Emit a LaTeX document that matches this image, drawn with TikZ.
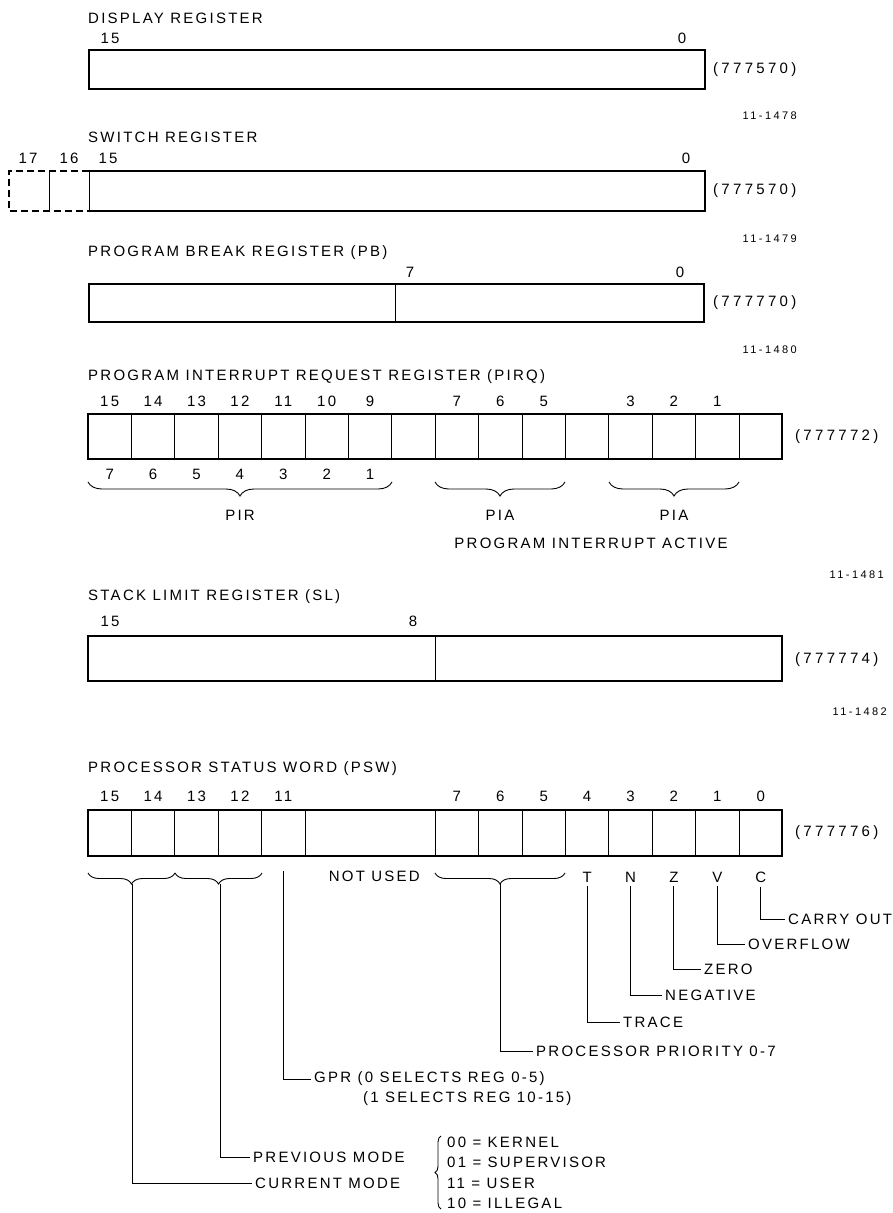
\documentclass[tikz,border=0pt]{standalone}
\usepackage{fontspec}
\setmainfont[LetterSpace=15]{Liberation Sans}
\newfontfamily\fignofont[LetterSpace=22]{Liberation Sans}
\newfontfamily\addrfont[LetterSpace=22]{Liberation Sans}
\usetikzlibrary{decorations.pathreplacing}

\tikzset{
  regbox/.style={line width=1.5pt},
  bitdiv/.style={line width=0.8pt},
  txt/.style={font=\fontsize{15}{18}\selectfont, inner sep=0pt},
  title/.style={txt, anchor=west},
  addr/.style={font=\addrfont\fontsize{15}{18}\selectfont, inner sep=0pt, anchor=west},
  figno/.style={font=\fignofont\fontsize{11}{13}\selectfont, inner sep=0pt, anchor=east},
  flag/.style={txt, inner sep=4pt},
  note/.style={txt, anchor=west, inner sep=3pt},
  lead/.style={line width=1pt},
  ubrace/.style={decorate, decoration={brace, mirror, amplitude=#1}, line width=0.9pt},
  ubrace/.default=12pt,
}

\begin{document}
\begin{tikzpicture}[x=1pt, y=-1pt]
    \useasboundingbox (0,0) rectangle (892,1213);

    % Display register
    \node[title] (dsptitle) at (88,18) {DISPLAY REGISTER};
    \node[txt] (dsp15) at (110,38) {15};
    \node[txt] (dsp0) at (682,38) {0};
    \draw[regbox] (89,50) rectangle (705,89);
    \node[addr] (dspaddr) at (713,70) {(777570)};
    \node[figno] (dspfig) at (797,116) {11-1478};

    % Switch register, bits 17 and 16 dashed
    \node[title] (swtitle) at (88,137) {SWITCH REGISTER};
    \node[txt] (sw17) at (28,158) {17};
    \node[txt] (sw16) at (69,158) {16};
    \node[txt] (sw15) at (108,158) {15};
    \node[txt] (sw0) at (686,158) {0};
    \draw[regbox, dash pattern=on 7pt off 4pt] (89,171) -- (9,171) -- (9,211) -- (89,211);
    \draw[bitdiv] (49,171) -- (49,211);
    \draw[bitdiv] (89,171) -- (89,211);
    \draw[regbox] (89,171) -- (705,171) -- (705,211) -- (89,211);
    \node[addr] (swaddr) at (713,191) {(777570)};
    \node[figno] (swfig) at (797,239) {11-1479};

    % Program break register
    \node[title] (pbtitle) at (88,253) {PROGRAM BREAK REGISTER (PB)};
    \node[txt] (pb7) at (410,272) {7};
    \node[txt] (pb0) at (680,272) {0};
    \draw[regbox] (89,284) rectangle (704,322);
    \draw[bitdiv] (395,284) -- (395,322);
    \node[addr] (pbaddr) at (713,303) {(777770)};
    \node[figno] (pbfig) at (797,350) {11-1480};

    % Program interrupt request register
    \node[title] (pirqtitle) at (88,377) {PROGRAM INTERRUPT REQUEST REGISTER (PIRQ)};
    \draw[regbox] (88,414) rectangle (782,459);
    \foreach \i in {1,...,15}
        \draw[bitdiv] (88+\i*43.4,414) -- (88+\i*43.4,459);
    \foreach \i/\b in {0/15,1/14,2/13,3/12,4/11,5/10,6/9,8/7,9/6,10/5,12/3,13/2,14/1}
        \node[txt] (pirq\b) at (109.7+\i*43.4,401) {\b};
    \foreach \i/\b in {0/7,1/6,2/5,3/4,4/3,5/2,6/1}
        \node[txt] (pir\b) at (109.7+\i*43.4,474) {\b};
    \draw[ubrace=14pt] (88,482) -- (392,482);
    \node[txt] (pir) at (240,515) {PIR};
    \draw[ubrace=14pt] (435,482) -- (565,482);
    \node[txt] (pia1) at (500,515) {PIA};
    \draw[ubrace=14pt] (609,482) -- (739,482);
    \node[txt] (pia2) at (674,515) {PIA};
    \node[txt] (piatext) at (591,543) {PROGRAM INTERRUPT ACTIVE};
    \node[addr] (pirqaddr) at (795,437) {(777772)};
    \node[figno] (pirqfig) at (884,575) {11-1481};

    % Stack limit register
    \node[title] (sltitle) at (88,597) {STACK LIMIT REGISTER (SL)};
    \node[txt] (sl15) at (110,621) {15};
    \node[txt] (sl8) at (413,621) {8};
    \draw[regbox] (88,636) rectangle (782,681);
    \draw[bitdiv] (435,636) -- (435,681);
    \node[addr] (sladdr) at (795,660) {(777774)};
    \node[figno] (slfig) at (887,712) {11-1482};

    % Processor status word
    \node[title] (pswtitle) at (88,769) {PROCESSOR STATUS WORD (PSW)};
    \draw[regbox] (88,810) rectangle (782,856);
    \foreach \i in {1,2,3,4,5,8,9,...,15}
        \draw[bitdiv] (88+\i*43.4,810) -- (88+\i*43.4,856);
    \foreach \i/\b in {0/15,1/14,2/13,3/12,4/11,8/7,9/6,10/5,11/4,12/3,13/2,14/1,15/0}
        \node[txt] (psw\b) at (109.7+\i*43.4,796) {\b};
    \node[addr] (pswaddr) at (795,833) {(777776)};
    \draw[ubrace=11pt] (88,873) -- (175,873);
    \draw[ubrace=11pt] (175,873) -- (262,873);
    \draw[ubrace=11pt] (435,873) -- (565,873);
    \node[txt, anchor=east] (notused) at (420,876) {NOT USED};
    \foreach \i/\f in {11/T,12/N,13/Z,14/V,15/C}
        \node[flag] (f\f) at (109.7+\i*43.4,877) {\f};

    % leaders
    \coordinate (cmtip) at (132,884);
    \coordinate (pmtip) at (220,884);
    \coordinate (gprtop) at (283,871);
    \coordinate (priotip) at (500,884);
    \node[note] (carry) at (785,919) {CARRY OUT};
    \node[note] (ovf) at (745,944) {OVERFLOW};
    \node[note] (zero) at (701,969) {ZERO};
    \node[note] (neg) at (662,995) {NEGATIVE};
    \node[note] (trace) at (620,1022) {TRACE};
    \node[note] (prio) at (533,1051) {PROCESSOR PRIORITY 0-7};
    \node[note] (gpr) at (311,1079) {GPR (0 SELECTS REG 0-5)};
    \node[txt, anchor=west] (gpr2) at (363,1099) {(1 SELECTS REG 10-15)};
    \node[note] (prevmode) at (250,1157) {PREVIOUS MODE};
    \node[note] (curmode) at (252,1183) {CURRENT MODE};
    \draw[lead] (fC) |- (carry.west);
    \draw[lead] (fV) |- (ovf.west);
    \draw[lead] (fZ) |- (zero.west);
    \draw[lead] (fN) |- (neg.west);
    \draw[lead] (fT) |- (trace.west);
    \draw[lead] (priotip) |- (prio.west);
    \draw[lead] (gprtop) |- (gpr.west);
    \draw[lead] (pmtip) |- (prevmode.west);
    \draw[lead] (cmtip) |- (curmode.west);

    % mode codes
    \draw[decorate, decoration={brace, amplitude=6pt}, line width=0.9pt] (441,1209) -- (441,1136);
    \node[txt, anchor=west] (kernel) at (447,1142) {00 = KERNEL};
    \node[txt, anchor=west] (super) at (447,1162) {01 = SUPERVISOR};
    \node[txt, anchor=west] (user) at (447,1183) {11 = USER};
    \node[txt, anchor=west] (illegal) at (447,1203) {10 = ILLEGAL};
\end{tikzpicture}
\end{document}
